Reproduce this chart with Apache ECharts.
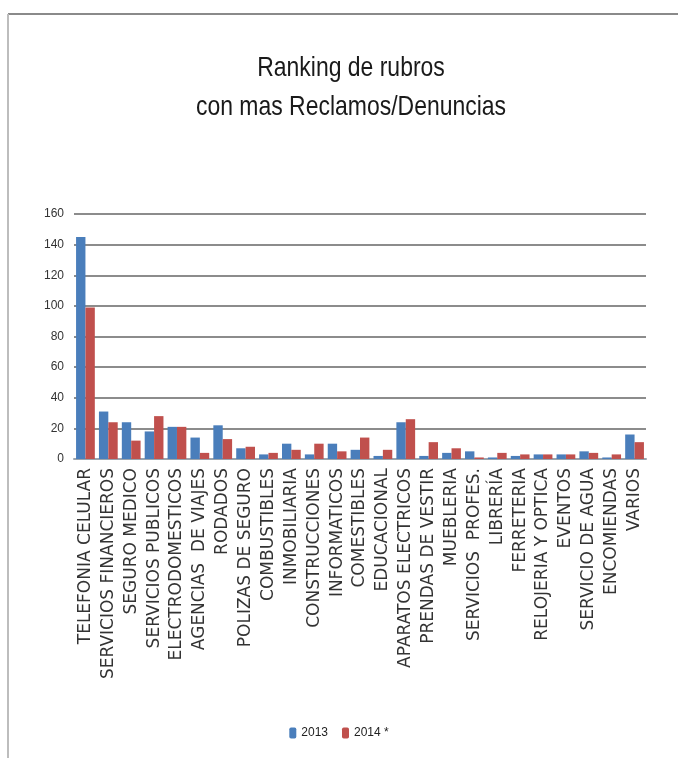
<!DOCTYPE html>
<html><head><meta charset="utf-8">
<script src="https://cdn.jsdelivr.net/npm/echarts@6/dist/echarts.min.js"></script>
<style>html,body{margin:0;padding:0;background:#fff}#c{width:678px;height:758px}</style>
</head><body><div id="c"></div>
<script>
const categories = ["TELEFONIA CELULAR","SERVICIOS FINANCIEROS","SEGURO MEDICO","SERVICIOS PUBLICOS","ELECTRODOMESTICOS","AGENCIAS  DE VIAJES","RODADOS","POLIZAS DE SEGURO","COMBUSTIBLES","INMOBILIARIA","CONSTRUCCIONES","INFORMATICOS","COMESTIBLES","EDUCACIONAL","APARATOS ELECTRICOS","PRENDAS DE VESTIR","MUEBLERIA","SERVICIOS  PROFES.","LIBRERÍA","FERRETERIA","RELOJERIA Y OPTICA","EVENTOS","SERVICIO DE AGUA","ENCOMIENDAS","VARIOS"];
const values2013 = [145,31,24,18,21,14,22,7,3,10,3,10,6,2,24,2,4,5,1,2,3,3,5,1,16];
const values2014 = [99,24,12,28,21,4,13,8,4,6,10,5,14,6,26,11,7,1,4,3,3,3,4,3,11];
const seriesNames = ["2013","2014 *"];
const titleLines = ["Ranking de rubros","con mas Reclamos/Denuncias"];
const yTicks = {min:0, max:160, interval:20};

const titleStyle = {fontFamily:'Liberation Sans, Arial, sans-serif', fontSize:28, fill:'#1a1a1a', textAlign:'center', textVerticalAlign:'middle'};
const chart = echarts.init(document.getElementById('c'));
chart.setOption({
  animation:false,
  backgroundColor:'#fff',
  graphic:[
    {type:'line', shape:{x1:8,y1:14,x2:678,y2:14}, style:{stroke:'#8a8a8a', lineWidth:2}},
    {type:'line', shape:{x1:8,y1:14,x2:8,y2:758}, style:{stroke:'#bdbdbd', lineWidth:2}},
    {type:'text', x:351, y:68, scaleX:0.82, style:Object.assign({text:titleLines[0]}, titleStyle)},
    {type:'text', x:351, y:107, scaleX:0.82, style:Object.assign({text:titleLines[1]}, titleStyle)}
  ],
  legend:{
    bottom:14, left:'center', itemWidth:7, itemHeight:11, itemGap:14,
    textStyle:{fontFamily:'Liberation Sans, Arial, sans-serif', fontSize:12, color:'#222'},
    data:seriesNames
  },
  grid:{left:74, right:32, top:214, height:245, containLabel:false},
  xAxis:{
    type:'category', data:categories,
    axisLine:{lineStyle:{color:'#9aa3ad', width:2}},
    axisTick:{show:false},
    axisLabel:{rotate:90, interval:0, fontFamily:'DejaVu Sans', fontSize:17, color:'#333', margin:9}
  },
  yAxis:{
    type:'value', min:yTicks.min, max:yTicks.max, interval:yTicks.interval,
    axisLine:{show:false}, axisTick:{show:false},
    axisLabel:{fontFamily:'Liberation Sans, Arial, sans-serif', fontSize:12, color:'#333', margin:10},
    splitLine:{lineStyle:{color:'#8c8c8c', width:2}}
  },
  series:[
    {name:seriesNames[0], type:'bar', data:values2013, barGap:'0%', barCategoryGap:'18%', itemStyle:{color:'#4a7ebb'}},
    {name:seriesNames[1], type:'bar', data:values2014, itemStyle:{color:'#c0504d'}}
  ]
});
</script></body></html>
